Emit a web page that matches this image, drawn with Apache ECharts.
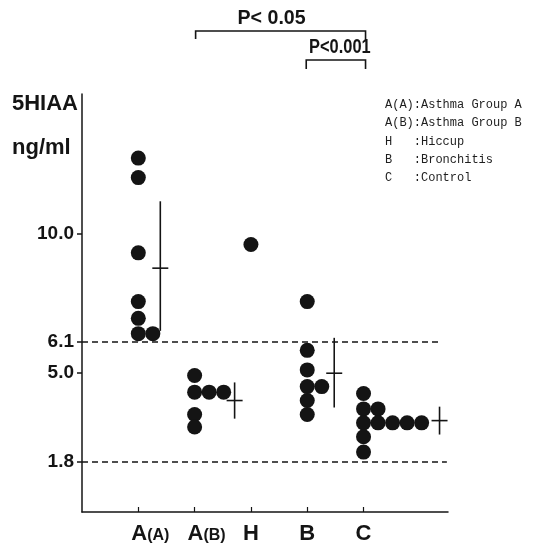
<!DOCTYPE html>
<html>
<head>
<meta charset="utf-8">
<script src="https://cdn.jsdelivr.net/npm/echarts@6/dist/echarts.min.js"></script>
<style>
html,body{margin:0;padding:0;background:#fff;}
#c{width:533px;height:545px;}
</style>
</head>
<body>
<div id="c"></div>
<script>
// ---------------- data ----------------
const categories = ['A(A)', 'A(B)', 'H', 'B', 'C'];
const valuesAA = [12.7, 12.0, 9.3, 7.55, 6.95, 6.4, 6.4];
const valuesAB = [4.9, 4.3, 4.3, 4.3, 3.5, 3.05];
const valuesH  = [9.6];
const valuesB  = [7.55, 5.8, 5.1, 4.5, 4.5, 4.0, 3.5];
const valuesC  = [4.25, 3.7, 3.7, 3.2, 3.2, 3.2, 3.2, 3.2, 2.7, 2.15];
const meanVals = [8.75, 4.0, null, 4.98, 3.28];
const sdHigh   = [11.15, 4.65, null, 6.25, 3.78];
const sdLow    = [6.5, 3.35, null, 3.75, 2.78];
const yTickValues = [1.8, 5.0, 6.1, 10.0];
const refLines = [6.1, 1.8];
const pTests = [
  { label: 'P< 0.05', from: 'A(B)', to: 'C' },
  { label: 'P<0.001', from: 'B', to: 'C' }
];
const yTitle = ['5HIAA', 'ng/ml'];
const legendLines = [
  'A(A):Asthma Group A',
  'A(B):Asthma Group B',
  'H   :Hiccup',
  'B   :Bronchitis',
  'C   :Control'
];
const groups = [valuesAA, valuesAB, valuesH, valuesB, valuesC];

// ---------------- layout / style ----------------
const INK = '#141414';
const COL_STEP = 0.258;            // horizontal step between stacked dots (x-axis units)
const MEAN_DX_PX = [22, 40, 0, 27, 76];
const REF_END_X = [6.39, 6.48];
const SANS = '"Liberation Sans",Arial,sans-serif';

// dots: equal values stack to the right
const dots = [];
groups.forEach((vals, gi) => {
  const seen = {};
  vals.forEach(v => {
    const k = String(v);
    const col = seen[k] || 0;
    seen[k] = col + 1;
    dots.push([gi + 1 + col * COL_STEP, v]);
  });
});

const meanData = [];
categories.forEach((c, i) => {
  if (meanVals[i] != null) meanData.push([i + 1, meanVals[i], sdLow[i], sdHigh[i], MEAN_DX_PX[i]]);
});

const chart = echarts.init(document.getElementById('c'), null, { renderer: 'canvas' });

const option = {
  backgroundColor: '#fff',
  animation: false,
  grid: { left: 82, right: 85, top: 94, bottom: 32 },
  xAxis: {
    type: 'value', min: 0, max: 6.5,
    axisLine: { show: true, lineStyle: { color: INK, width: 1.5 } },
    axisTick: { show: true, inside: true, length: 5, lineStyle: { color: INK, width: 1.2 },
                customValues: categories.map((c, i) => i + 1) },
    axisLabel: {
      show: true, margin: 11,
      customValues: categories.map((c, i) => i + 1),
      formatter: v => {
        const name = categories[Math.round(v) - 1] || '';
        const m = name.match(/^(\w)(\(.*\))$/);
        if (m) return '{sp|}{big|' + m[1] + '}{small|' + m[2] + '}';
        return '{big|' + name + '}';
      },
      rich: {
        sp: { width: 24 },
        big: { fontFamily: SANS, fontWeight: 'bold', fontSize: 22, color: INK },
        small: { fontFamily: SANS, fontWeight: 'bold', fontSize: 16, color: INK, padding: [4, 0, 0, 0] }
      }
    },
    splitLine: { show: false }
  },
  yAxis: {
    type: 'value', min: 0, max: 15,
    axisLine: { show: true, lineStyle: { color: INK, width: 1.5 } },
    axisTick: { show: true, length: 5, lineStyle: { color: INK, width: 1.5 }, customValues: yTickValues },
    axisLabel: {
      show: true, margin: 8, customValues: yTickValues,
      formatter: v => Number(v).toFixed(1),
      fontFamily: SANS, fontWeight: 'bold', fontSize: 19, color: INK
    },
    splitLine: { show: false }
  },
  series: [
    {
      type: 'scatter',
      data: dots,
      symbol: 'circle',
      symbolSize: 15,
      itemStyle: { color: INK, opacity: 1 },
      markLine: {
        silent: true, symbol: 'none',
        label: { show: false },
        lineStyle: { color: INK, type: [6, 4], width: 1.5 },
        data: refLines.map((v, i) => [{ coord: [0, v] }, { coord: [REF_END_X[i], v] }])
      }
    },
    {
      type: 'custom',
      data: meanData,
      renderItem: (params, api) => {
        const x = api.value(0), m = api.value(1), lo = api.value(2), hi = api.value(3), dx = api.value(4);
        const pm = api.coord([x, m]), pl = api.coord([x, lo]), ph = api.coord([x, hi]);
        const px = pm[0] + dx;
        const st = { stroke: INK, lineWidth: 1.6 };
        return {
          type: 'group',
          children: [
            { type: 'line', shape: { x1: px, y1: ph[1], x2: px, y2: pl[1] }, style: st },
            { type: 'line', shape: { x1: px - 8, y1: pm[1], x2: px + 8, y2: pm[1] }, style: st }
          ]
        };
      }
    }
  ]
};
chart.setOption(option);

// ---------------- annotations (positions derived from axis scale) ----------------
const xp = name => chart.convertToPixel({ xAxisIndex: 0 }, categories.indexOf(name) + 1);
const g = [];
// significance brackets
const b1L = xp(pTests[0].from) + 1, b1R = xp(pTests[0].to) + 2;
const b2L = xp(pTests[1].from) - 1, b2R = b1R;
const lineSt = { stroke: INK, lineWidth: 1.6, fill: null };
g.push({ type: 'polyline', shape: { points: [[b1L, 39], [b1L, 31], [b1R, 31], [b1R, 40]] }, style: lineSt });
g.push({ type: 'polyline', shape: { points: [[b2L, 69], [b2L, 60], [b2R, 60], [b2R, 69]] }, style: lineSt });
g.push({ type: 'text', x: (b1L + b1R) / 2 - 9, y: 28, scaleX: 0.98, style: {
  text: pTests[0].label, fontFamily: SANS, fontWeight: 'bold', fontSize: 20, fill: INK,
  textAlign: 'center', textVerticalAlign: 'bottom' } });
g.push({ type: 'text', x: (b2L + b2R) / 2 + 4, y: 57, scaleX: 0.82, style: {
  text: pTests[1].label, fontFamily: SANS, fontWeight: 'bold', fontSize: 20, fill: INK,
  textAlign: 'center', textVerticalAlign: 'bottom' } });
// y title
g.push({ type: 'text', left: 12, top: 93, style: { text: yTitle[0], fontFamily: SANS, fontWeight: 'bold', fontSize: 22, fill: INK } });
g.push({ type: 'text', left: 12, top: 137, style: { text: yTitle[1], fontFamily: SANS, fontWeight: 'bold', fontSize: 22, fill: INK } });
// legend
legendLines.forEach((t, i) => {
  g.push({ type: 'text', left: 385, top: 99 + i * 18.2, style: {
    text: t, fontFamily: '"Liberation Mono","DejaVu Sans Mono",monospace', fontSize: 12, fill: '#1e1e1e' } });
});
chart.setOption({ graphic: g });
</script>
</body>
</html>
